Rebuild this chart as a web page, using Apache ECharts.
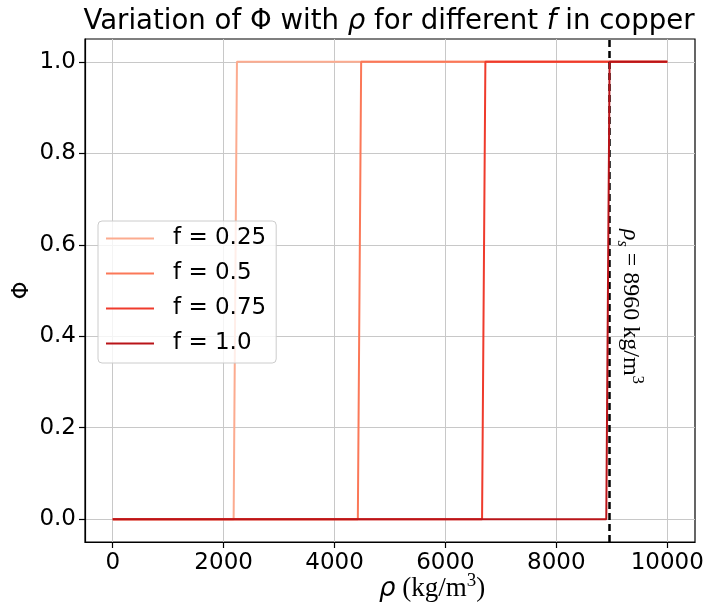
<!DOCTYPE html>
<html>
<head>
<meta charset="utf-8">
<script src="https://cdn.jsdelivr.net/npm/echarts@6/dist/echarts.min.js"></script>
<style>
  html, body { margin: 0; padding: 0; background: #ffffff; }
  #chart { width: 705px; height: 605px; }
</style>
</head>
<body>
<div id="chart"></div>
<script>
// Volume fraction Φ against density ρ for several fill fractions f (copper)
const seriesNames = ['f = 0.25', 'f = 0.5', 'f = 0.75', 'f = 1.0'];
const seriesColors = ['#fcab8f', '#fb7858', '#ef3b2c', '#b91419'];

// each curve: density samples (kg/m^3) and the matching Φ values
const rhoF025 = [0, 2180, 2240, 10000];
const rhoF050 = [0, 4420, 4480, 10000];
const rhoF075 = [0, 6660, 6720, 10000];
const rhoF100 = [0, 8900, 8960, 10000];
const phiSteps = [0, 0, 1, 1];

// solid density of copper
const rhoSolid = 8960;

const xTicks = [0, 2000, 4000, 6000, 8000, 10000];
const yTicks = [0.0, 0.2, 0.4, 0.6, 0.8, 1.0];

const rhoCurves = [rhoF025, rhoF050, rhoF075, rhoF100];
const sans = 'DejaVu Sans';
const serif = 'Liberation Serif';

const chart = echarts.init(document.getElementById('chart'), null, { renderer: 'canvas' });

const series = seriesNames.map((name, i) => ({
  type: 'line',
  name: name,
  data: rhoCurves[i].map((r, j) => [r, phiSteps[j]]),
  symbol: 'none',
  lineStyle: { width: 2, color: seriesColors[i] },
  itemStyle: { color: seriesColors[i] },
  z: 2 + i,
  animation: false
}));

// dashed marker at the solid density
series[series.length - 1].markLine = {
  silent: true,
  symbol: 'none',
  animation: false,
  label: { show: false },
  lineStyle: { type: [7, 4], color: '#000000', width: 2.5 },
  data: [{ xAxis: rhoSolid }]
};

const option = {
  animation: false,
  backgroundColor: '#ffffff',
  title: {
    text: 'Variation of Φ with {i|ρ} for different {i|f} in copper',
    left: 384,
    textAlign: 'center',
    top: 3,
    textStyle: {
      fontFamily: sans, fontSize: 27.6, fontWeight: 'normal', color: '#000000',
      rich: { i: { fontFamily: sans, fontSize: 27.6, fontStyle: 'italic', color: '#000000' } }
    }
  },
  grid: {
    left: 85, right: 10, top: 39, bottom: 63,
    containLabel: false,
    outerBoundsMode: 'none',
    show: true, borderColor: '#000000', borderWidth: 1.2, backgroundColor: 'transparent'
  },
  legend: {
    data: seriesNames,
    orient: 'vertical',
    left: 98, top: 221,
    padding: [6, 10, 8, 8],
    icon: 'path://M0,0H48V2H0Z',
    itemWidth: 48, itemHeight: 2, itemGap: 12,
    backgroundColor: 'rgba(255,255,255,0.8)',
    borderColor: '#cccccc', borderWidth: 1, borderRadius: 4,
    textStyle: { fontFamily: sans, fontSize: 23, color: '#000000', lineHeight: 22, padding: [0, 0, 0, 14] }
  },
  xAxis: {
    type: 'value', min: -500, max: 10500,
    axisLine: { show: true, onZero: false, lineStyle: { color: '#000000', width: 1.2 } },
    axisTick: { show: true, inside: false, length: 6, customValues: xTicks, lineStyle: { color: '#000000', width: 1.2 } },
    axisLabel: { customValues: xTicks, fontFamily: sans, fontSize: 23, color: '#000000', margin: 10,
      formatter: v => String(v) },
    splitLine: { show: true, lineStyle: { color: '#c8c8c8', width: 1 } },
    name: '{a|ρ}{b| (kg/m}{sup|3}{b|)}',
    nameLocation: 'middle', nameGap: 30,
    nameMoveOverlap: false,
    nameTextStyle: {
      padding: [0, 0, 0, 84],
      rich: {
        a: { fontFamily: sans, fontStyle: 'italic', fontSize: 26, lineHeight: 34, color: '#000000' },
        b: { fontFamily: serif, fontSize: 27, lineHeight: 34, color: '#000000' },
        sup: { fontFamily: serif, fontSize: 19, lineHeight: 19, verticalAlign: 'top', color: '#000000' }
      }
    }
  },
  yAxis: {
    type: 'value', min: -0.05, max: 1.05,
    axisLine: { show: true, onZero: false, lineStyle: { color: '#000000', width: 1.2 } },
    axisTick: { show: true, inside: false, length: 6, customValues: yTicks, lineStyle: { color: '#000000', width: 1.2 } },
    axisLabel: { customValues: yTicks, fontFamily: sans, fontSize: 23, color: '#000000', margin: 9,
      formatter: v => v.toFixed(1) },
    splitLine: { show: true, lineStyle: { color: '#c8c8c8', width: 1 } },
    name: 'Φ', nameLocation: 'middle', nameRotate: 90, nameGap: 51,
    nameMoveOverlap: false,
    nameTextStyle: { fontFamily: sans, fontSize: 23, color: '#000000' }
  },
  series: series
};

chart.setOption(option);

// rotated annotation beside the dashed marker
const annoRho = 9330, annoPhi = 0.465;
const p = chart.convertToPixel({ gridIndex: 0 }, [annoRho, annoPhi]);
chart.setOption({
  graphic: [{
    type: 'text',
    x: p[0], y: p[1],
    rotation: -Math.PI / 2,
    z: 20,
    style: {
      text: '{i|ρ}{s|s}{n| = 8960 kg/m}{sup|3}',
      align: 'center', verticalAlign: 'middle',
      rich: {
        i: { fontFamily: serif, fontStyle: 'italic', fontSize: 24, lineHeight: 32, fill: '#000000' },
        s: { fontFamily: serif, fontStyle: 'italic', fontSize: 16, lineHeight: 16, verticalAlign: 'bottom', fill: '#000000' },
        n: { fontFamily: serif, fontSize: 24, lineHeight: 32, fill: '#000000' },
        sup: { fontFamily: serif, fontSize: 17, lineHeight: 17, verticalAlign: 'top', fill: '#000000' }
      }
    }
  }]
});
</script>
</body>
</html>
